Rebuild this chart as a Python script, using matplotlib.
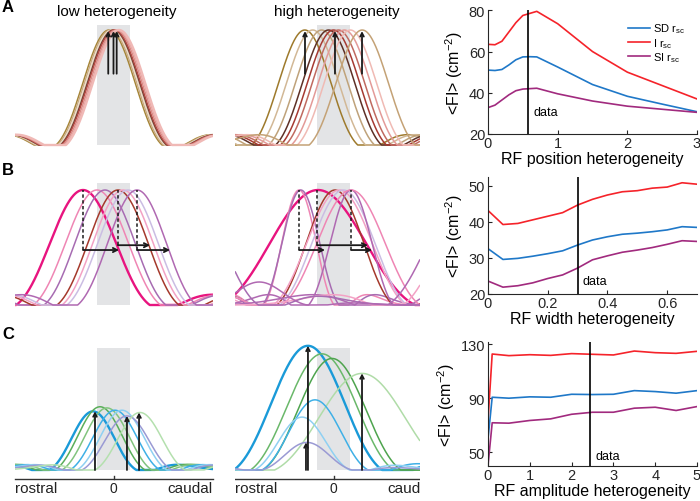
import numpy as np
import matplotlib.pyplot as plt
from matplotlib.patches import Rectangle

plt.rcParams['font.family'] = ['Liberation Sans', 'DejaVu Sans']
plt.rcParams['mathtext.fontset'] = 'custom'
plt.rcParams['mathtext.rm'] = 'Liberation Sans'

# ---------------- right column: <FI> against heterogeneity ----------------
pos_x = [0, 0.1, 0.2, 0.3, 0.4, 0.5, 0.6, 0.7, 1.0, 1.5, 2.0, 2.5, 3.0]
pos_sd = [51.0, 50.8, 51.3, 53.5, 56.0, 57.4, 57.5, 57.4, 52.5, 44.0, 38.3, 34.5, 30.8]
pos_i = [63.5, 63.3, 65.0, 69.5, 74.0, 77.5, 78.5, 79.5, 73.5, 60.0, 50.0, 43.5, 37.0]
pos_si = [32.8, 34.0, 36.5, 39.0, 41.0, 41.8, 42.0, 42.2, 39.5, 36.0, 33.5, 32.0, 30.5]
pos_data = 0.58
pos_ticks = [0, 1, 2, 3]

wid_x = [0, 0.05, 0.1, 0.15, 0.2, 0.25, 0.3, 0.35, 0.4, 0.45, 0.5, 0.55, 0.6, 0.65, 0.7]
wid_sd = [32.6, 29.6, 29.9, 30.5, 31.2, 32.0, 33.6, 35.0, 35.9, 36.6, 36.9, 37.3, 37.8, 38.7, 38.5]
wid_i = [43.2, 39.3, 39.6, 40.6, 41.6, 42.6, 44.7, 46.3, 47.5, 48.4, 48.7, 49.4, 49.7, 50.9, 50.5]
wid_si = [23.6, 21.9, 22.3, 23.1, 24.3, 25.3, 27.2, 29.5, 30.6, 31.6, 32.2, 32.9, 33.8, 34.8, 34.6]
wid_data = 0.3
wid_ticks = [0, 0.2, 0.4, 0.6]
wid_ticklabels = ['0', '0.2', '0.4', '0.6']

amp_x = [0, 0.1, 0.5, 1.0, 1.5, 2.0, 2.5, 3.0, 3.5, 4.0, 4.5, 5.0]
amp_sd = [59.6, 90.6, 89.9, 90.9, 90.6, 92.8, 92.6, 92.8, 95.5, 94.8, 93.6, 95.5]
amp_i = [73.2, 122.6, 121.4, 122.1, 121.6, 122.9, 122.4, 121.9, 124.8, 123.6, 123.1, 124.6]
amp_si = [40.0, 71.7, 71.4, 73.4, 74.6, 78.0, 79.5, 79.5, 82.5, 83.2, 80.8, 83.7]
amp_data = 2.45
amp_ticks = [0, 1, 2, 3, 4, 5]

labels = ['SD r$_{\\mathregular{sc}}$', 'I r$_{\\mathregular{sc}}$', 'SI r$_{\\mathregular{sc}}$']
line_colors = ['#1f78c8', '#f5232a', '#a12a7e']

# ---------------- left columns: schematic receptive fields ----------------
# each RF: centre, width factor, amplitude
a_low_c = [-0.045, -0.03, -0.015, 0.0, 0.01, 0.025, 0.04, 0.055]
a_low_w = [1, 1, 1, 1, 1, 1, 1, 1]
a_low_a = [1, 1, 1, 1, 1, 1, 1, 1]
a_low_arrows = [-0.053, 0.0, 0.032]
a_high_c = [-0.29, -0.21, -0.12, -0.05, 0.0, 0.05, 0.11, 0.17, 0.29]
a_high_w = [1, 1, 1, 1, 1, 1, 1, 1, 1]
a_high_a = [1, 1, 1, 1, 1, 1, 1, 1, 1]
a_high_arrows = [-0.288, 0.015, 0.288]
a_low_col = ['#a58538', '#c9ab82', '#ecdcc8', '#6e4030', '#b54a44', '#d98b86', '#e9a5a2', '#f0b9b6']
a_high_col = ['#9e7a2c', '#d2b896', '#bfa27a', '#5e3026', '#a63a32', '#c06a60', '#e39a98', '#f0bab4', '#c4a276']

b_low_c = [-0.308, -0.167, -0.086, 0.045, 0.096, 0.146, 0.237]
b_low_w = [1.26, 1.2, 1.15, 1.15, 1.15, 1.15, 1.12]
b_low_a = [1, 1, 1, 1, 1, 1, 1]
b_low_dash = [-0.308, 0.045, 0.237]
b_low_arrow_end = [0.056, 0.369, 0.571]
b_high_c = [-0.157, -0.348, -0.33, 0.015, 0.06, 0.1, 0.177, 0.177, 1.35, 1.45, -1.4, -0.75]
b_high_w = [1.83, 0.66, 0.72, 1.1, 1.25, 1.2, 0.8, 1.3, 1.5, 1.4, 1.2, 0.9]
b_high_a = [1, 1, 1, 1, 1, 1, 1, 1, 1, 1, 0.85, 0.2]
b_high_dash = [-0.348, -0.167, 0.177]
b_high_arrow_end = [-0.086, 0.348, 0.389]
b_low_col = ['#e8147f', '#ef86b4', '#a76cb2', '#a5392c', '#f3a2c5', '#cbbde3', '#b069b2']
b_high_col = ['#e8147f', '#ef86b4', '#a76cb2', '#a5392c', '#f3a2c5', '#cbbde3', '#b069b2',
              '#ef86b4', '#b069b2', '#f3a2c5', '#a76cb2', '#b069b2']
b_arrow_y = [0.478, 0.52, 0.478]

c_low_c = [-0.207, -0.136, -0.066, 0.015, 0.086, 0.136, 0.268]
c_low_w = [0.82, 0.85, 0.85, 0.85, 0.85, 0.85, 0.85]
c_low_a = [0.51, 0.55, 0.54, 0.52, 0.52, 0.47, 0.5]
c_low_arrows = [(-0.187, 0.51), (0.136, 0.47), (0.258, 0.5)]
c_high_c = [-0.258, -0.116, -0.015, 0.288, -0.187, -0.318, -0.268]
c_high_w = [1.4, 1.35, 1.3, 1.65, 1.0, 0.9, 0.85]
c_high_a = [1.08, 1.01, 0.97, 0.84, 0.61, 0.46, 0.24]
c_high_arrows = [(-0.278, 0.24), (-0.258, 1.08), (0.288, 0.84)]
c_low_col = ['#1a9ad8', '#5aae5a', '#82c47e', '#3fb0e6', '#8fd0f2', '#9a9ad4', '#b4e0ae']
c_high_col = ['#1a9ad8', '#6ab86a', '#4ea44e', '#b0dca8', '#3fb0e6', '#8fd0f2', '#9a9ad4']


def rf(x, c, w, a):
    d = (x - c) / w
    lobe = np.clip((np.cos(2 * np.pi * d / 1.293) + 0.857) / 1.857, 0, None)
    return a * lobe * np.exp(-d ** 2 / 0.55)


fig = plt.figure(figsize=(7, 5.02), dpi=100)


def px_axes(l, t, r, b):
    return fig.add_axes([l / 700, 1 - b / 502, (r - l) / 700, (b - t) / 502])


def schematic(l, t, r, b, base, centre, cs, ws, amps, cols, thick=(), box_top=1.04):
    ax = px_axes(l, t, r, b)
    x0, x1 = (l - centre) / 99, (r - centre) / 99
    ax.set_xlim(x0, x1)
    ax.set_ylim((base - b) / 115, (base - t) / 115)
    ax.axis('off')
    ax.add_patch(Rectangle((-0.167, 0), 0.334, box_top, color='#e3e4e6', lw=0, zorder=0))
    xs = np.linspace(x0, x1, 600)
    for k, (c, w, a, col) in enumerate(zip(cs, ws, amps, cols)):
        ax.plot(xs, rf(xs, c, w, a), color=col, lw=1.7 if k in thick else 1.1,
                solid_capstyle='butt', zorder=2)
    return ax


def up_arrow(ax, x, y0, y1):
    ax.annotate('', xy=(x, y1), xytext=(x, y0),
                arrowprops=dict(arrowstyle='->,head_length=0.25,head_width=0.13',
                                color='#1a1a1a', lw=1.3, shrinkA=0, shrinkB=0), zorder=5)


def side_arrow(ax, x0, x1, y):
    ax.annotate('', xy=(x1, y), xytext=(x0, y),
                arrowprops=dict(arrowstyle='->,head_length=0.3,head_width=0.15',
                                color='#1a1a1a', lw=1.3, shrinkA=0, shrinkB=0), zorder=5)


# row A
ax = schematic(15, 18, 213, 150, 146, 113.5, a_low_c, a_low_w, a_low_a, a_low_col, thick=(7,))
for x in a_low_arrows:
    up_arrow(ax, x, 0.62, 0.99)
ax = schematic(235, 18, 420, 150, 146, 333.5, a_high_c, a_high_w, a_high_a, a_high_col)
for x in a_high_arrows:
    up_arrow(ax, x, 0.62, 0.99)

# row B
for (l, r, cen, cs, ws, amps, cols, dash, ends) in [
        (15, 213, 113.5, b_low_c, b_low_w, b_low_a, b_low_col, b_low_dash, b_low_arrow_end),
        (235, 420, 333.5, b_high_c, b_high_w, b_high_a, b_high_col, b_high_dash, b_high_arrow_end)]:
    ax = schematic(l, 178, r, 310, 306, cen, cs, ws, amps, cols, thick=(0,), box_top=1.06)
    for x, xe, y in zip(dash, ends, b_arrow_y):
        ax.plot([x, x], [y, 1.0], color='#1a1a1a', lw=1.1, ls=(0, (2.2, 1.6)), zorder=4)
        side_arrow(ax, x, xe, y)

# row C
for k, (l, r, cen, cs, ws, amps, cols, arrows) in enumerate([
        (15, 213, 113.5, c_low_c, c_low_w, c_low_a, c_low_col, c_low_arrows),
        (235, 420, 333.5, c_high_c, c_high_w, c_high_a, c_high_col, c_high_arrows)]):
    ax = schematic(l, 340, r, 500, 471, cen, cs, ws, amps, cols, thick=(0,), box_top=1.06)
    for x, top in arrows:
        up_arrow(ax, x, 0, top)
    x0, x1 = ax.get_xlim()
    ax.plot([x0, (213 - 113.5) / 99], [-0.078, -0.078], color='#333333', lw=1.0, clip_on=k == 1)
    ax.plot([0, 0], [-0.078, -0.05], color='#333333', lw=1.0)
    ax.text(x0, -0.157, 'rostral', ha='left', va='center', fontsize=11, color='#222222')
    ax.text(0, -0.157, '0', ha='center', va='center', fontsize=10, color='#222222')
    ax.text((213 - 113.5) / 99, -0.157, 'caudal', ha='right', va='center', fontsize=11,
            color='#222222', clip_on=k == 1)

fig.text(117 / 700, 1 - 12 / 502, 'low heterogeneity', ha='center', va='center', fontsize=11)
fig.text(337 / 700, 1 - 12 / 502, 'high heterogeneity', ha='center', va='center', fontsize=11)
for letter, y in [('A', 8), ('B', 171), ('C', 335)]:
    fig.text(2 / 700, 1 - y / 502, letter, ha='left', va='center', fontsize=12, fontweight='bold')


def fi_panel(t, b, ylim, yticks, x, sd, i, si, xlim, xticks, xticklabels, data_x, data_pos,
             xlabel, legend=False):
    ax = px_axes(488, t, 697, b)
    for ys, col, lab in zip([sd, i, si], line_colors, labels):
        ax.plot(x, ys, color=col, lw=1.2, label=lab)
    ax.axvline(data_x, color='black', lw=1.2)
    ax.text(data_pos[0], data_pos[1], 'data', fontsize=9, ha='left', va='center')
    ax.set_xlim(xlim)
    ax.set_ylim(ylim)
    ax.set_yticks(yticks)
    ax.set_xticks(xticks)
    ax.set_xticklabels(xticklabels)
    for s in ['top', 'right']:
        ax.spines[s].set_visible(False)
    for s in ['left', 'bottom']:
        ax.spines[s].set_linewidth(0.8)
        ax.spines[s].set_color('#262626')
    ax.tick_params(direction='in', length=3, width=0.8, labelsize=10.5, colors='#262626')
    ax.tick_params(axis='x', pad=1.5)
    ax.tick_params(axis='y', pad=2)
    ax.set_xlabel(xlabel, fontsize=11.5, labelpad=1)
    ax.set_ylabel('<FI> (cm$^{\\mathregular{-2}}$)', fontsize=11.5, labelpad=3)
    if legend:
        ax.legend(loc='upper right', bbox_to_anchor=(0.97, 0.95), frameon=False, fontsize=8,
                  handlelength=2.0, handletextpad=0.3, labelspacing=0.05, borderpad=0)
    return ax


fi_panel(10.7, 135, (20, 80.3), [20, 40, 60, 80], pos_x, pos_sd, pos_i, pos_si, (0, 3),
         pos_ticks, [str(v) for v in pos_ticks], pos_data, (0.65, 30.6),
         'RF position heterogeneity', legend=True)
fi_panel(178, 295, (20, 52.5), [20, 30, 40, 50], wid_x, wid_sd, wid_i, wid_si, (0, 0.7),
         wid_ticks, wid_ticklabels, wid_data, (0.315, 23.7), 'RF width heterogeneity')
fi_panel(343, 467, (39.7, 131.5), [50, 90, 130], amp_x, amp_sd, amp_i, amp_si, (0, 5),
         amp_ticks, [str(v) for v in amp_ticks], amp_data, (2.58, 47.3),
         'RF amplitude heterogeneity')

fig.savefig('out.png', dpi=100)
